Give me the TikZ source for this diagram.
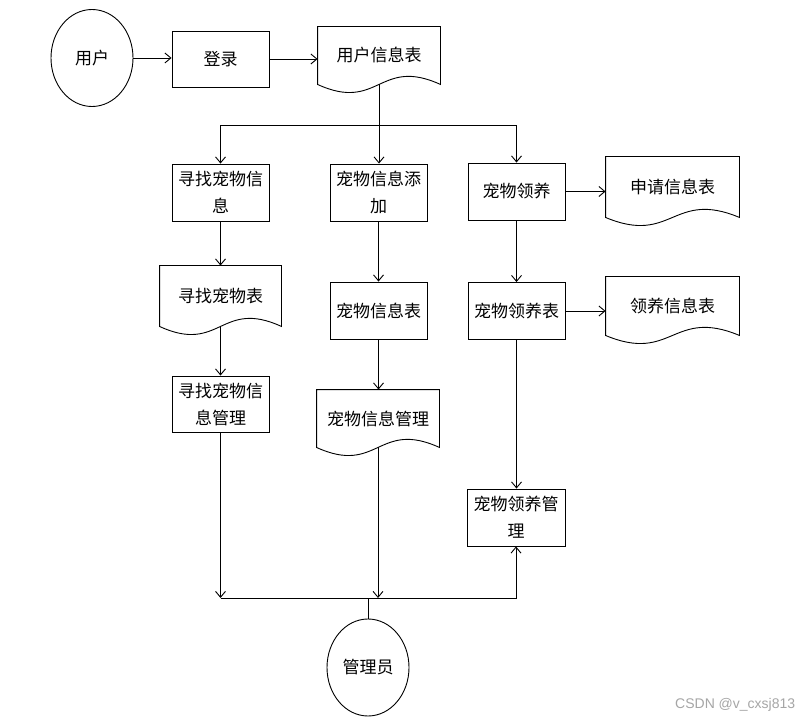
\documentclass[tikz,border=0pt]{standalone}
\usepackage{fontspec}
\newfontfamily\cjk{Noto Sans CJK SC}
\newfontfamily\wmfont{Liberation Sans}
\usetikzlibrary{shapes.geometric,arrows.meta,calc}
\newcommand\docpath[1]{\draw (#1.north west) -- (#1.north east) -- (#1.south east) .. controls ($(#1.south)+(0,-28)$) and ($(#1.south)+(0,28)$) .. (#1.south west) -- cycle;}
\begin{document}
\begin{tikzpicture}[x=1pt,y=-1pt,line width=0.9pt,
  every node/.style={font=\cjk\fontsize{17pt}{27pt}\selectfont},
  box/.style={draw,rectangle,minimum width=97pt,minimum height=57pt,inner sep=0pt,align=center},
  doc/.style={rectangle,inner sep=0pt,align=center},
  circ/.style={draw,ellipse,minimum width=82pt,minimum height=97pt,inner sep=0pt},
  arr/.style={-{Straight Barb[length=6pt,width=10pt]}}]
\useasboundingbox[fill=white] (0,0) rectangle (809,722);
% nodes
\node[circ] (user) at (92,58) {用户};
\node[box,minimum height=56pt] (login) at (220.5,59) {登录};
\node[doc,minimum width=122pt,minimum height=57pt] (u1) at (379,55.5) {用户信息表};
\node[box] (find) at (220.5,192.5) {寻找宠物信\\息};
\node[box] (add) at (378.5,192.5) {宠物信息添\\加};
\node[box] (adopt) at (516.5,191.5) {宠物领养};
\node[doc,minimum width=133pt,minimum height=60pt] (apply) at (672.5,187) {申请信息表};
\node[doc,minimum width=121pt,minimum height=60pt] (findtab) at (220.5,296) {寻找宠物表};
\node[box] (addtab) at (378.5,310.5) {宠物信息表};
\node[box] (adopttab) at (516.5,311) {宠物领养表};
\node[doc,minimum width=133pt,minimum height=58pt] (adoptinfo) at (672.5,306) {领养信息表};
\node[box,minimum height=56pt] (findmgr) at (220.5,404) {寻找宠物信\\息管理};
\node[doc,minimum width=122pt,minimum height=57pt] (addmgr) at (378,418.5) {宠物信息管理};
\node[box,minimum width=98pt] (adoptmgr) at (516,517.5) {宠物领养管\\理};
\node[circ] (admin) at (368,667.5) {管理员};
\node[font=\wmfont\fontsize{14pt}{14pt}\selectfont,text=black!35,anchor=east] (wm) at (799,705) {CSDN @v\_cxsj813};
% document outlines
\docpath{u1}
\docpath{apply}
\docpath{findtab}
\docpath{adoptinfo}
\docpath{addmgr}
% helper coordinates
\coordinate (bar) at (0,125);
\coordinate (bot) at (0,598);
% connectors
\draw[arr] (user.east) -- (user.east -| login.west);
\draw[arr] (login.east) -- (login.east -| u1.west);
\draw[arr] (u1.south) -- (u1.south |- add.north);
\draw[arr] (u1.south |- bar) -| (find.north);
\draw[arr] (u1.south |- bar) -| (adopt.north);
\draw[arr] (find.south) -- (findtab.north);
\draw[arr] (findtab.south) -- (findmgr.north);
\draw[arr] (add.south) -- (addtab.north);
\draw[arr] (addtab.south) -- (addtab.south |- addmgr.north);
\draw[arr] (adopt.south) -- (adopttab.north);
\draw[arr] (adopttab.south) -- (adopttab.south |- adoptmgr.north);
\draw[arr] (adopt.east) -- (adopt.east -| apply.west);
\draw[arr] (adopttab.east) -- (adopttab.east -| adoptinfo.west);
\draw[arr] (findmgr.south) -- (findmgr.south |- bot);
\draw[arr] (addmgr.south) -- (addmgr.south |- bot);
\draw[arr] (findmgr.south |- bot) -| (adoptmgr.south);
\draw (admin.north |- bot) -- (admin.north);
\end{tikzpicture}
\end{document}
